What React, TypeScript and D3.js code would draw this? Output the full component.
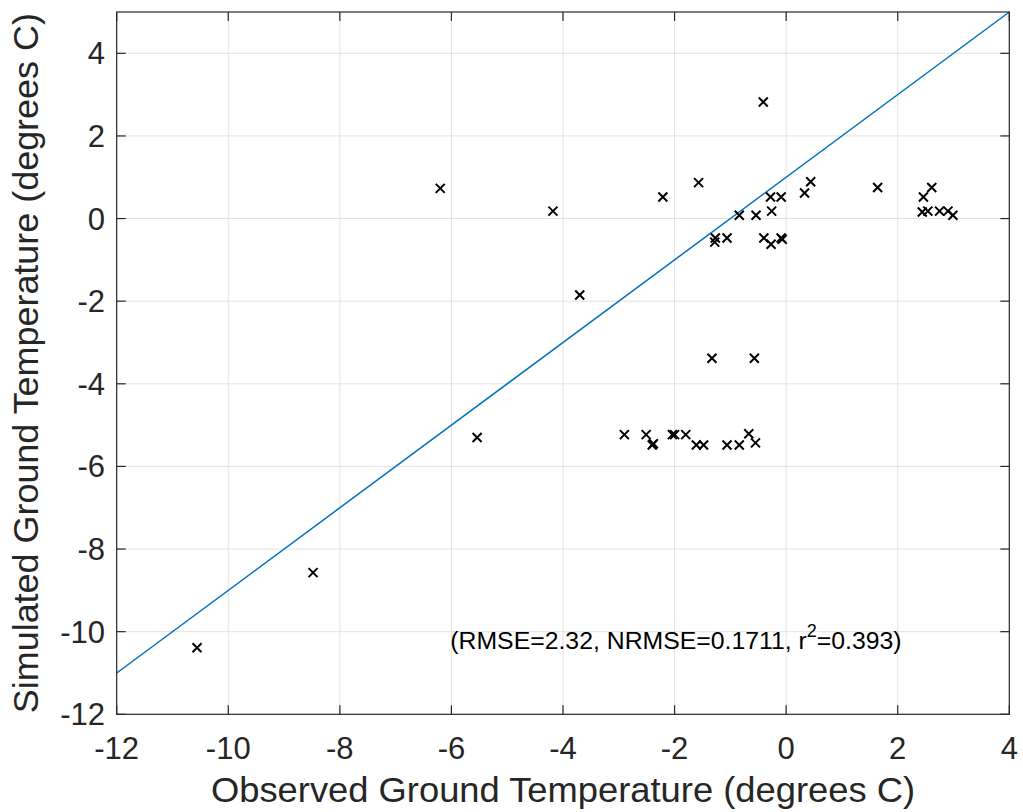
import React from "react";
import * as d3 from "d3";

const observed = [
  -0.41, -2.21, -1.57, -0.28, -0.09, 0.33, 0.44, 1.64, 2.46, 2.61, 2.44, 2.54,
  2.75, 2.9, 2.99, -0.84, -0.54, -0.26, -1.27, -1.28, -1.06, -0.4, -0.27, -0.09,
  -0.07, -6.2, -4.18, -3.7, -1.33, -0.57, -2.9, -2.51, -2.4, -2.38, -2.04, -2.0,
  -1.8, -1.61, -1.48, -1.06, -0.84, -0.67, -0.55, -5.54, -8.48, -10.56,
];
const simulated = [
  2.82, 0.52, 0.87, 0.52, 0.52, 0.62, 0.89, 0.75, 0.52, 0.75, 0.16, 0.18, 0.18,
  0.18, 0.08, 0.08, 0.08, 0.18, -0.47, -0.57, -0.47, -0.47, -0.62, -0.47, -0.5,
  0.73, 0.18, -1.85, -3.38, -3.38, -5.23, -5.23, -5.48, -5.45, -5.23, -5.23,
  -5.23, -5.48, -5.48, -5.48, -5.48, -5.21, -5.43, -5.3, -8.57, -10.39,
];
const xTicks = [-12, -10, -8, -6, -4, -2, 0, 2, 4];
const yTicks = [-12, -10, -8, -6, -4, -2, 0, 2, 4];
// reference line (y = x + 1)
const fitX = [-12, 4];
const fitOffset = 1;

const W = 1023;
const H = 812;
const margin = { left: 116.7, right: 1009.3, top: 12, bottom: 714.3 };
const font = "'Liberation Sans', Arial, Helvetica, sans-serif";
const axisColor = "#262626";

export default function App() {
  const x = d3.scaleLinear().domain([-12, 4]).range([margin.left, margin.right]);
  const y = d3.scaleLinear().domain([-12, 5]).range([margin.bottom, margin.top]);
  const tick = 9;
  const line = d3
    .line<number>()
    .x((d) => x(d))
    .y((d) => y(d + fitOffset));
  const m = 4.5;

  return (
    <svg
      width={W}
      height={H}
      style={{ position: "absolute", left: 0, top: 0, background: "#fff" }}
      fontFamily={font}
    >
      <rect width={W} height={H} fill="#fff" />
      {/* grid */}
      <g stroke="#e3e3e3" strokeWidth={1}>
        {xTicks.slice(1, -1).map((t) => (
          <line key={"gx" + t} x1={x(t)} x2={x(t)} y1={margin.top} y2={margin.bottom} />
        ))}
        {yTicks.slice(1).map((t) => (
          <line key={"gy" + t} x1={margin.left} x2={margin.right} y1={y(t)} y2={y(t)} />
        ))}
      </g>
      {/* fit line */}
      <path d={line(fitX) || ""} fill="none" stroke="#0072BD" strokeWidth={1.5} />
      {/* markers */}
      <g stroke="#000" strokeWidth={2}>
        {observed.map((o, i) => {
          const cx = x(o);
          const cy = y(simulated[i]);
          return (
            <path
              key={i}
              d={`M${cx - m},${cy - m}L${cx + m},${cy + m}M${cx - m},${cy + m}L${cx + m},${cy - m}`}
            />
          );
        })}
      </g>
      {/* box and ticks */}
      <g stroke={axisColor} strokeWidth={1.2} fill="none">
        <rect
          x={margin.left}
          y={margin.top}
          width={margin.right - margin.left}
          height={margin.bottom - margin.top}
        />
        {xTicks.map((t) => (
          <g key={"tx" + t}>
            <line x1={x(t)} x2={x(t)} y1={margin.bottom} y2={margin.bottom - tick} />
            <line x1={x(t)} x2={x(t)} y1={margin.top} y2={margin.top + tick} />
          </g>
        ))}
        {yTicks.map((t) => (
          <g key={"ty" + t}>
            <line x1={margin.left} x2={margin.left + tick} y1={y(t)} y2={y(t)} />
            <line x1={margin.right} x2={margin.right - tick} y1={y(t)} y2={y(t)} />
          </g>
        ))}
      </g>
      {/* tick labels */}
      <g fill={axisColor} fontSize={31}>
        {xTicks.map((t) => (
          <text key={"lx" + t} x={x(t)} y={759} textAnchor="middle">
            {t}
          </text>
        ))}
        {yTicks.map((t) => (
          <text key={"ly" + t} x={105} y={y(t) + 11} textAnchor="end">
            {t}
          </text>
        ))}
      </g>
      {/* axis titles */}
      <text
        x={(margin.left + margin.right) / 2}
        y={802}
        textAnchor="middle"
        fontSize={35}
        textLength={704}
        lengthAdjust="spacingAndGlyphs"
        fill={axisColor}
      >
        Observed Ground Temperature (degrees C)
      </text>
      <text
        transform={`translate(38,${(margin.top + margin.bottom) / 2}) rotate(-90)`}
        textAnchor="middle"
        fontSize={35}
        textLength={700}
        lengthAdjust="spacingAndGlyphs"
        fill={axisColor}
      >
        Simulated Ground Temperature (degrees C)
      </text>
      {/* stats annotation */}
      <text x={x(-6.02)} y={y(-10.42)} fontSize={24.8} fill="#000">
        (RMSE=2.32, NRMSE=0.1711, r
        <tspan fontSize={18} dy={-12}>
          2
        </tspan>
        <tspan dy={12}>=0.393)</tspan>
      </text>
    </svg>
  );
}
